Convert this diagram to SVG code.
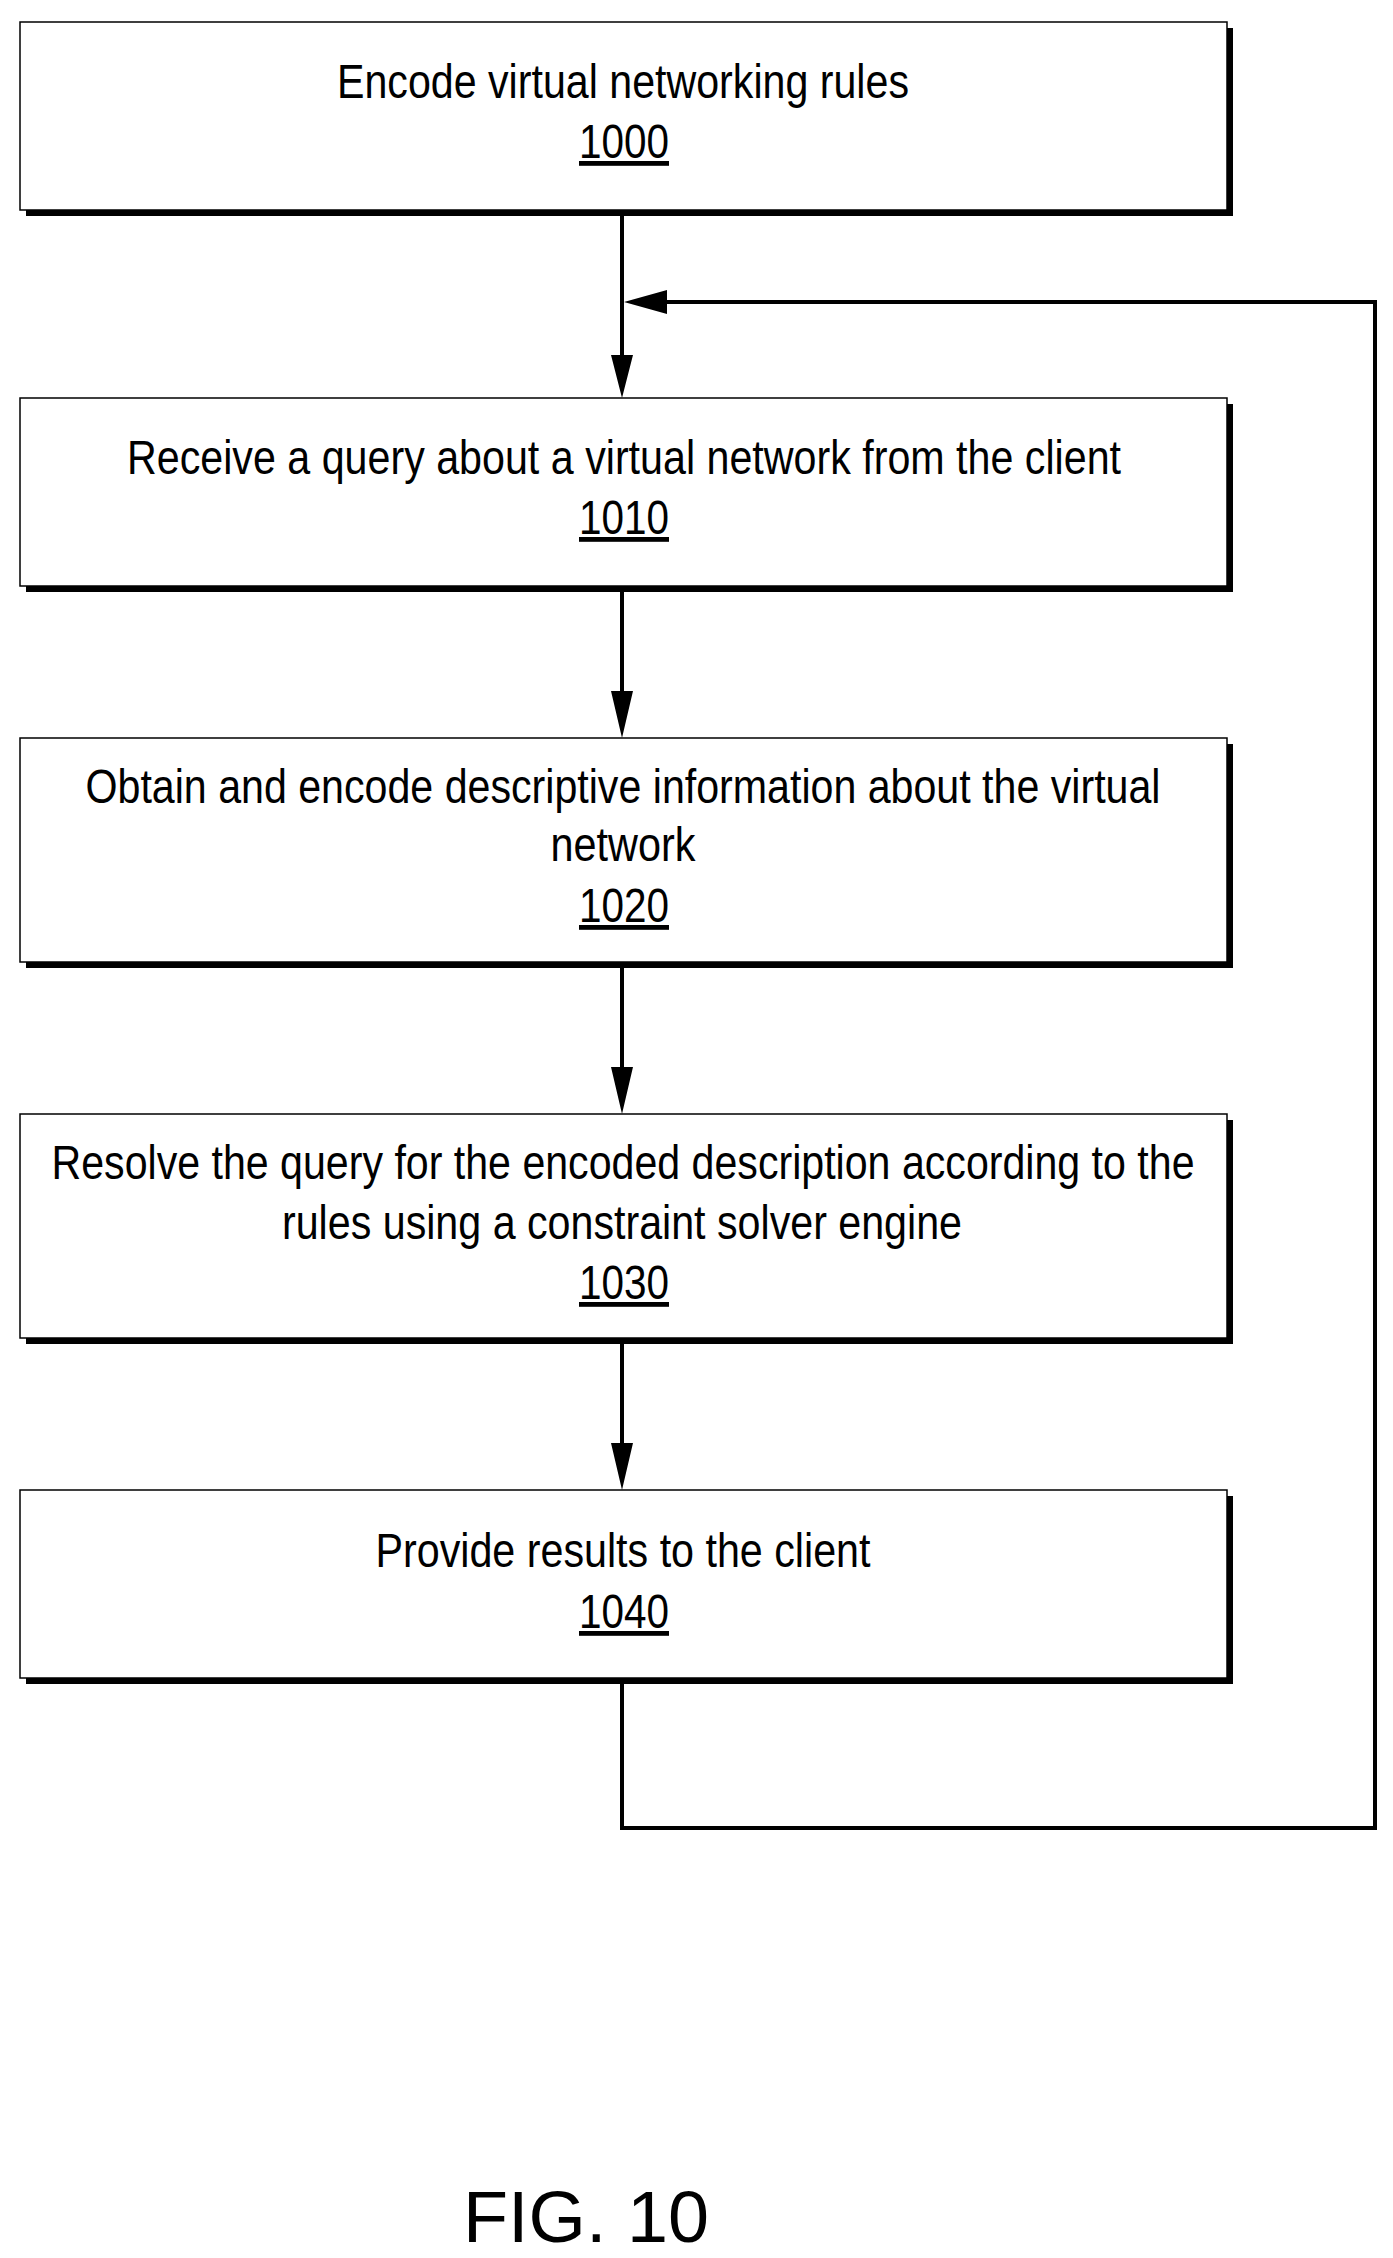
<svg xmlns="http://www.w3.org/2000/svg" width="1393" height="2258" viewBox="0 0 1393 2258">
<style>
.b{fill:#fff;stroke:#000;stroke-width:1.5}
.s{fill:#000}
.t{font-family:"Liberation Sans",Arial,sans-serif;font-size:48px;text-anchor:middle;fill:#000}
.n{text-decoration:underline}
.c{fill:none;stroke:#000;stroke-width:4}
</style>
<g id="n1000"><rect class="s" x="26" y="28" width="1207" height="188"/><rect class="b" x="20" y="22" width="1207" height="188"/>
<text class="t" x="623" y="98" textLength="572" lengthAdjust="spacingAndGlyphs">Encode virtual networking rules</text>
<text class="t n" x="624" y="158" textLength="90" lengthAdjust="spacingAndGlyphs">1000</text></g>
<g id="n1010"><rect class="s" x="26" y="404" width="1207" height="188"/><rect class="b" x="20" y="398" width="1207" height="188"/>
<text class="t" x="624" y="474" textLength="994" lengthAdjust="spacingAndGlyphs">Receive a query about a virtual network from the client</text>
<text class="t n" x="624" y="534" textLength="90" lengthAdjust="spacingAndGlyphs">1010</text></g>
<g id="n1020"><rect class="s" x="26" y="744" width="1207" height="224"/><rect class="b" x="20" y="738" width="1207" height="224"/>
<text class="t" x="623" y="803" textLength="1075" lengthAdjust="spacingAndGlyphs">Obtain and encode descriptive information about the virtual</text>
<text class="t" x="623" y="861" textLength="145" lengthAdjust="spacingAndGlyphs">network</text>
<text class="t n" x="624" y="922" textLength="90" lengthAdjust="spacingAndGlyphs">1020</text></g>
<g id="n1030"><rect class="s" x="26" y="1120" width="1207" height="224"/><rect class="b" x="20" y="1114" width="1207" height="224"/>
<text class="t" x="623" y="1179" textLength="1143" lengthAdjust="spacingAndGlyphs">Resolve the query for the encoded description according to the</text>
<text class="t" x="622" y="1239" textLength="680" lengthAdjust="spacingAndGlyphs">rules using a constraint solver engine</text>
<text class="t n" x="624" y="1299" textLength="90" lengthAdjust="spacingAndGlyphs">1030</text></g>
<g id="n1040"><rect class="s" x="26" y="1496" width="1207" height="188"/><rect class="b" x="20" y="1490" width="1207" height="188"/>
<text class="t" x="623" y="1567" textLength="495" lengthAdjust="spacingAndGlyphs">Provide results to the client</text>
<text class="t n" x="624" y="1628" textLength="90" lengthAdjust="spacingAndGlyphs">1040</text></g>
<g id="connectors">
<path class="c" d="M622 210V360M622 586V696M622 962V1072M622 1338V1448M622 1678V1828H1375V302H660"/>
<path class="s" d="M611 355H633L622 398ZM611 691H633L622 738ZM611 1067H633L622 1114ZM611 1443H633L622 1490ZM624 302L667 290V314Z"/>
</g>
<text style="font-family:'Liberation Sans',Arial,sans-serif;font-size:72px;fill:#000" x="463" y="2242" textLength="246" lengthAdjust="spacingAndGlyphs">FIG. 10</text>
</svg>
